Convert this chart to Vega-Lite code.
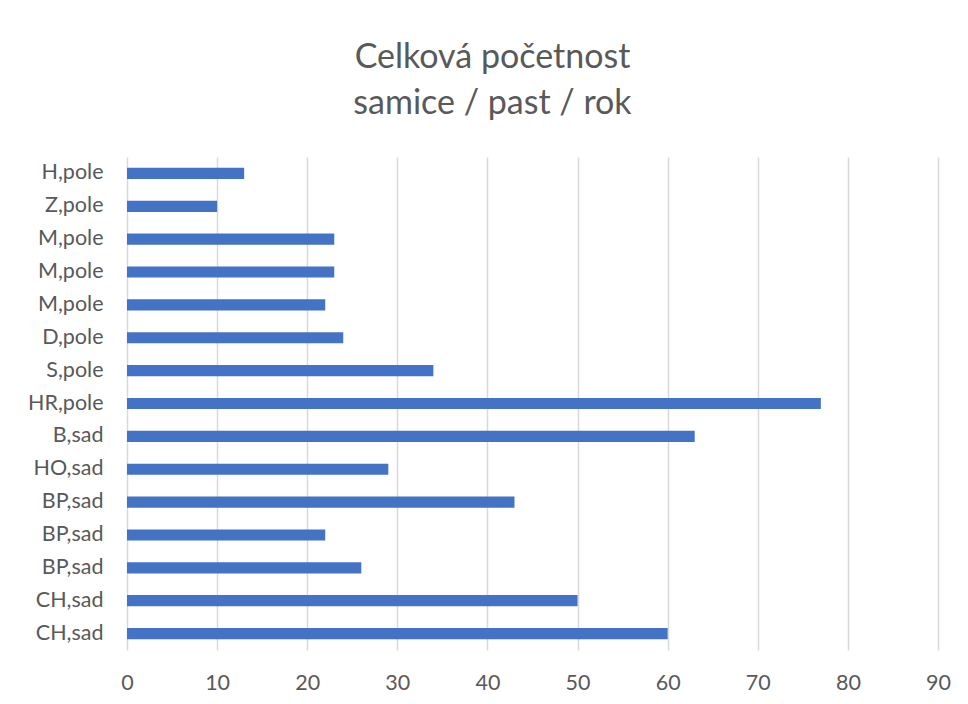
{
  "$schema": "https://vega.github.io/schema/vega-lite/v6.json",
  "autosize": "none",
  "width": 811,
  "height": 493,
  "padding": {"left": 127, "top": 157, "right": 30, "bottom": 54},
  "background": "white",
  "title": {
    "text": ["Celková početnost", "samice / past / rok"],
    "anchor": "middle",
    "frame": "group",
    "dx": -40,
    "offset": 36,
    "font": "Lato",
    "fontSize": 34,
    "fontWeight": "normal",
    "color": "#595959",
    "lineHeight": 46
  },
  "data": {
    "values": [
      {"klic": "01|H,pole", "pocet": 13},
      {"klic": "02|Z,pole", "pocet": 10},
      {"klic": "03|M,pole", "pocet": 23},
      {"klic": "04|M,pole", "pocet": 23},
      {"klic": "05|M,pole", "pocet": 22},
      {"klic": "06|D,pole", "pocet": 24},
      {"klic": "07|S,pole", "pocet": 34},
      {"klic": "08|HR,pole", "pocet": 77},
      {"klic": "09|B,sad", "pocet": 63},
      {"klic": "10|HO,sad", "pocet": 29},
      {"klic": "11|BP,sad", "pocet": 43},
      {"klic": "12|BP,sad", "pocet": 22},
      {"klic": "13|BP,sad", "pocet": 26},
      {"klic": "14|CH,sad", "pocet": 50},
      {"klic": "15|CH,sad", "pocet": 60}
    ]
  },
  "mark": {"type": "bar", "color": "#4472C4"},
  "encoding": {
    "y": {
      "field": "klic",
      "type": "nominal",
      "sort": "ascending",
      "scale": {"paddingInner": 0.66, "paddingOuter": 0.33},
      "axis": {
        "title": null,
        "labelExpr": "split(datum.value, '|')[1]",
        "ticks": false,
        "tickSize": 0,
        "domain": false,
        "grid": false,
        "labelPadding": 24,
        "labelFont": "Lato",
        "labelFontSize": 21.5,
        "labelColor": "#595959"
      }
    },
    "x": {
      "field": "pocet",
      "type": "quantitative",
      "scale": {"domain": [0, 90], "nice": false},
      "axis": {
        "title": null,
        "values": [0, 10, 20, 30, 40, 50, 60, 70, 80, 90],
        "ticks": false,
        "tickSize": 0,
        "domain": false,
        "grid": true,
        "gridColor": "#d9d9d9",
        "gridWidth": 1.5,
        "labelFlush": false,
        "labelPadding": 22,
        "labelFont": "Lato",
        "labelFontSize": 21.5,
        "labelColor": "#595959"
      }
    }
  },
  "config": {
    "view": {"stroke": null}
  }
}
